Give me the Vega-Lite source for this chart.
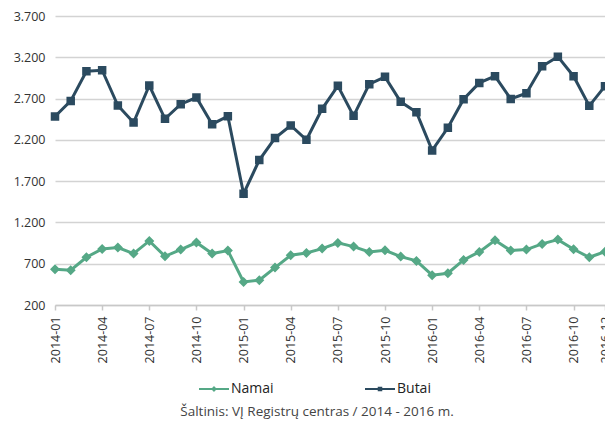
{
  "$schema": "https://vega.github.io/schema/vega-lite/v6.json",
  "width": 550,
  "height": 289,
  "autosize": "none",
  "padding": {"left": 55, "top": 16, "right": 0, "bottom": 120},
  "background": "white",
  "title": {"text": "Šaltinis: VĮ Registrų centras  / 2014 - 2016 m.", "orient": "bottom", "anchor": "middle", "fontSize": 13.5, "font": "Open Sans", "fontWeight": "normal", "color": "#444444", "dx": -13, "offset": 9},
  "config": {
    "view": {"stroke": null},
    "font": "Open Sans",
    "axis": {"labelFont": "Open Sans", "labelColor": "#333333", "labelFontSize": 12.5}
  },
  "data": {"values": [
    {"month":"2014-01","series":"Butai","value":2483},
    {"month":"2014-02","series":"Butai","value":2672},
    {"month":"2014-03","series":"Butai","value":3031},
    {"month":"2014-04","series":"Butai","value":3043},
    {"month":"2014-05","series":"Butai","value":2616},
    {"month":"2014-06","series":"Butai","value":2410},
    {"month":"2014-07","series":"Butai","value":2858},
    {"month":"2014-08","series":"Butai","value":2455},
    {"month":"2014-09","series":"Butai","value":2632},
    {"month":"2014-10","series":"Butai","value":2713},
    {"month":"2014-11","series":"Butai","value":2390},
    {"month":"2014-12","series":"Butai","value":2487},
    {"month":"2015-01","series":"Butai","value":1548},
    {"month":"2015-02","series":"Butai","value":1955},
    {"month":"2015-03","series":"Butai","value":2221},
    {"month":"2015-04","series":"Butai","value":2374},
    {"month":"2015-05","series":"Butai","value":2201},
    {"month":"2015-06","series":"Butai","value":2576},
    {"month":"2015-07","series":"Butai","value":2854},
    {"month":"2015-08","series":"Butai","value":2491},
    {"month":"2015-09","series":"Butai","value":2874},
    {"month":"2015-10","series":"Butai","value":2963},
    {"month":"2015-11","series":"Butai","value":2660},
    {"month":"2015-12","series":"Butai","value":2535},
    {"month":"2016-01","series":"Butai","value":2072},
    {"month":"2016-02","series":"Butai","value":2346},
    {"month":"2016-03","series":"Butai","value":2692},
    {"month":"2016-04","series":"Butai","value":2890},
    {"month":"2016-05","series":"Butai","value":2971},
    {"month":"2016-06","series":"Butai","value":2696},
    {"month":"2016-07","series":"Butai","value":2765},
    {"month":"2016-08","series":"Butai","value":3091},
    {"month":"2016-09","series":"Butai","value":3208},
    {"month":"2016-10","series":"Butai","value":2971},
    {"month":"2016-11","series":"Butai","value":2612},
    {"month":"2016-12","series":"Butai","value":2850},
    {"month":"2014-01","series":"Namai","value":632},
    {"month":"2014-02","series":"Namai","value":622},
    {"month":"2014-03","series":"Namai","value":778},
    {"month":"2014-04","series":"Namai","value":879},
    {"month":"2014-05","series":"Namai","value":895},
    {"month":"2014-06","series":"Namai","value":823},
    {"month":"2014-07","series":"Namai","value":976},
    {"month":"2014-08","series":"Namai","value":790},
    {"month":"2014-09","series":"Namai","value":871},
    {"month":"2014-10","series":"Namai","value":956},
    {"month":"2014-11","series":"Namai","value":823},
    {"month":"2014-12","series":"Namai","value":859},
    {"month":"2015-01","series":"Namai","value":480},
    {"month":"2015-02","series":"Namai","value":500},
    {"month":"2015-03","series":"Namai","value":653},
    {"month":"2015-04","series":"Namai","value":802},
    {"month":"2015-05","series":"Namai","value":830},
    {"month":"2015-06","series":"Namai","value":883},
    {"month":"2015-07","series":"Namai","value":952},
    {"month":"2015-08","series":"Namai","value":907},
    {"month":"2015-09","series":"Namai","value":843},
    {"month":"2015-10","series":"Namai","value":863},
    {"month":"2015-11","series":"Namai","value":786},
    {"month":"2015-12","series":"Namai","value":734},
    {"month":"2016-01","series":"Namai","value":561},
    {"month":"2016-02","series":"Namai","value":585},
    {"month":"2016-03","series":"Namai","value":746},
    {"month":"2016-04","series":"Namai","value":843},
    {"month":"2016-05","series":"Namai","value":984},
    {"month":"2016-06","series":"Namai","value":859},
    {"month":"2016-07","series":"Namai","value":871},
    {"month":"2016-08","series":"Namai","value":940},
    {"month":"2016-09","series":"Namai","value":992},
    {"month":"2016-10","series":"Namai","value":875},
    {"month":"2016-11","series":"Namai","value":778},
    {"month":"2016-12","series":"Namai","value":845}
  ]},
  "encoding": {
    "x": {
      "field": "month", "type": "ordinal",
      "scale": {"type": "point", "padding": 0},
      "axis": {
        "title": null,
        "values": ["2014-01","2014-04","2014-07","2014-10","2015-01","2015-04","2015-07","2015-10","2016-01","2016-04","2016-07","2016-10","2016-12"],
        "labelAngle": -90, "labelPadding": 6,
        "domainColor": "#c8c8c8", "domainWidth": 1.5,
        "tickColor": "#c8c8c8", "tickSize": 5, "tickWidth": 1.5,
        "grid": false
      }
    },
    "y": {
      "field": "value", "type": "quantitative",
      "scale": {"domain": [200, 3700], "nice": false, "zero": false},
      "axis": {
        "title": null,
        "values": [200, 700, 1200, 1700, 2200, 2700, 3200, 3700],
        "labelExpr": "replace(format(datum.value, ','), ',', '.')",
        "domain": false, "ticks": false, "labelPadding": 10,
        "gridColor": "#d3d3d3", "gridWidth": 1.5
      }
    },
    "color": {
      "field": "series", "type": "nominal",
      "scale": {"domain": ["Namai", "Butai"], "range": ["#55a886", "#2b4a5f"]},
      "legend": {
        "title": null, "orient": "none", "legendX": 143, "legendY": 357, "direction": "horizontal",
        "symbolSize": 900, "symbolStrokeWidth": 2,
        "labelFont": "Open Sans", "labelFontSize": 14, "labelColor": "#222222",
        "columnPadding": 87, "labelOffset": 1,
        "encode": {"symbols": {"update": {
          "fill": {"scale": "color", "field": "value"},
          "stroke": {"scale": "color", "field": "value"},
          "strokeWidth": {"value": 2},
          "opacity": {"value": 1}
        }}}
      }
    }
  },
  "layer": [
    {
      "mark": {"type": "line", "strokeWidth": 3, "clip": false}
    },
    {
      "mark": {"type": "point", "filled": true, "opacity": 1, "size": 10000, "strokeWidth": 0},
      "encoding": {
        "shape": {
          "field": "series", "type": "nominal",
          "scale": {"domain": ["Namai", "Butai"], "range": [
            "M-1,0L1,0M0,-0.1L0.1,0L0,0.1L-0.1,0Z",
            "M-1,0L1,0M-0.085,-0.085L0.085,-0.085L0.085,0.085L-0.085,0.085Z"
          ]},
          "legend": {
            "title": null, "orient": "none", "legendX": 143, "legendY": 357, "direction": "horizontal",
            "symbolSize": 900, "symbolStrokeWidth": 2,
            "labelFont": "Open Sans", "labelFontSize": 14, "labelColor": "#222222",
            "columnPadding": 87, "labelOffset": 1,
            "encode": {"symbols": {"update": {
              "fill": {"scale": "color", "field": "value"},
              "stroke": {"scale": "color", "field": "value"},
              "strokeWidth": {"value": 2},
              "opacity": {"value": 1}
            }}}
          }
        }
      }
    }
  ]
}
